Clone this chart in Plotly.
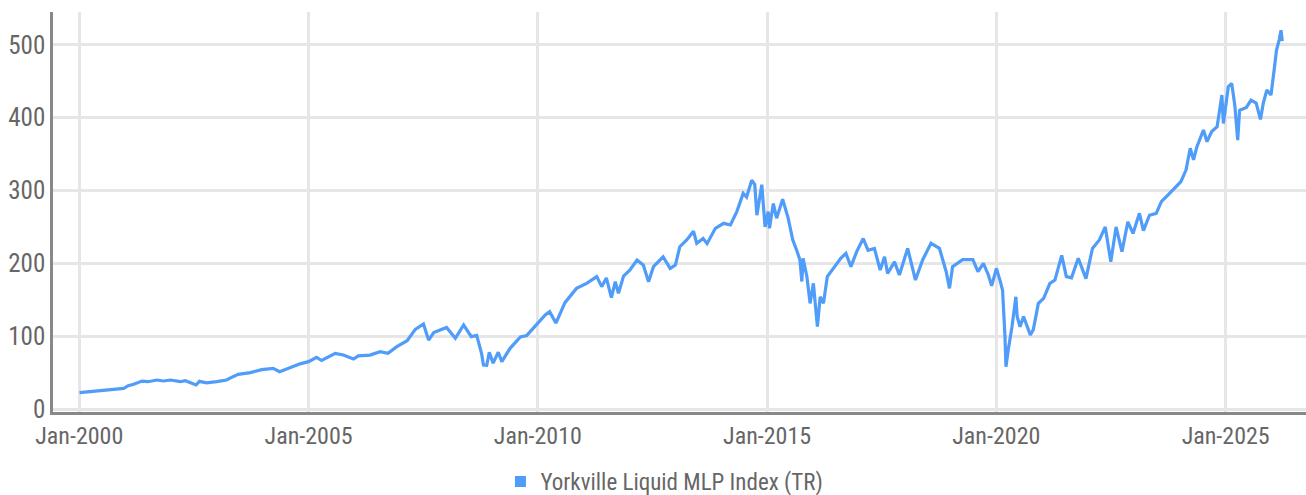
import plotly.graph_objects as go

dates = [
    "2000-01-03", "2000-03-15", "2000-07-10", "2000-10-01", "2000-12-20",
    "2001-01-25", "2001-03-10", "2001-05-15", "2001-07-01", "2001-09-10", "2001-11-01", "2001-12-28",
    "2002-03-15", "2002-04-25", "2002-06-01", "2002-07-20", "2002-08-15", "2002-10-10", "2002-12-31",
    "2003-03-20", "2003-05-10", "2003-06-20", "2003-09-25", "2003-12-25",
    "2004-03-25", "2004-05-15", "2004-08-05", "2004-10-25",
    "2005-01-01", "2005-03-05", "2005-04-15", "2005-07-01", "2005-08-01", "2005-10-05", "2005-12-25",
    "2006-02-01", "2006-05-05", "2006-07-25", "2006-09-25", "2006-12-05",
    "2007-02-25", "2007-05-01", "2007-07-05", "2007-08-15", "2007-09-25",
    "2008-01-05", "2008-03-15", "2008-05-20", "2008-07-20", "2008-09-01", "2008-10-10", "2008-10-25",
    "2008-11-20", "2008-12-10",
    "2009-01-10", "2009-02-20", "2009-03-20", "2009-05-25", "2009-08-15", "2009-10-05", "2009-11-25",
    "2009-12-28",
    "2010-01-20", "2010-03-01", "2010-04-05", "2010-05-25", "2010-08-05", "2010-11-05",
    "2011-01-25", "2011-04-15", "2011-05-25", "2011-07-01", "2011-08-10", "2011-09-10", "2011-10-05",
    "2011-11-15",
    "2012-01-05", "2012-03-01", "2012-04-20", "2012-06-01", "2012-07-10", "2012-09-25", "2012-11-20",
    "2013-01-01", "2013-02-05", "2013-04-01", "2013-05-25", "2013-06-20", "2013-08-10", "2013-09-10",
    "2013-11-15",
    "2014-01-20", "2014-03-15", "2014-05-05", "2014-06-25", "2014-07-22", "2014-09-01", "2014-09-25",
    "2014-10-12", "2014-11-20", "2014-12-16",
    "2015-01-10", "2015-01-20", "2015-02-20", "2015-03-18", "2015-05-05", "2015-06-18", "2015-07-25",
    "2015-08-25", "2015-09-20", "2015-10-05", "2015-10-15", "2015-11-14", "2015-12-10",
    "2016-01-05", "2016-02-06", "2016-02-28", "2016-03-25", "2016-04-25", "2016-06-15", "2016-08-10",
    "2016-09-20", "2016-10-30", "2016-12-15",
    "2017-02-05", "2017-03-15", "2017-05-05", "2017-06-20", "2017-07-25", "2017-08-18", "2017-10-12",
    "2017-11-20",
    "2018-01-25", "2018-03-28", "2018-05-25", "2018-07-30", "2018-10-05", "2018-11-28", "2018-12-24",
    "2019-01-18", "2019-04-08", "2019-06-28", "2019-08-08", "2019-09-20", "2019-10-30", "2019-11-25",
    "2020-01-02", "2020-01-30", "2020-02-20", "2020-03-10", "2020-03-18", "2020-04-05", "2020-05-05",
    "2020-06-05", "2020-06-15", "2020-07-08", "2020-08-05", "2020-09-28", "2020-10-22", "2020-12-01",
    "2021-01-12", "2021-03-03", "2021-04-12", "2021-06-05", "2021-07-12", "2021-08-22", "2021-10-15",
    "2021-12-15",
    "2022-02-05", "2022-04-01", "2022-05-18", "2022-07-01", "2022-08-12", "2022-09-28", "2022-11-14",
    "2022-12-25",
    "2023-02-14", "2023-03-18", "2023-05-05", "2023-06-28", "2023-08-08", "2023-10-12", "2023-12-01",
    "2024-01-10", "2024-02-20", "2024-03-25", "2024-04-20", "2024-05-15", "2024-07-08", "2024-08-05",
    "2024-09-12", "2024-10-25", "2024-12-02", "2024-12-14",
    "2025-01-22", "2025-02-18", "2025-03-15", "2025-04-07", "2025-04-22", "2025-06-15", "2025-07-22",
    "2025-09-01", "2025-10-05", "2025-10-28", "2025-11-25", "2025-12-28",
    "2026-01-22", "2026-02-10", "2026-03-03", "2026-03-18", "2026-03-28",
]

index_values = [
    22.4, 23.5, 26, 27.5, 28.4,
    32, 34, 38.4, 37.5, 39.8, 38.5, 39.8,
    37.5, 38.8, 36, 33, 38, 36, 37.5,
    39.8, 44.4, 47.6, 49.9, 54,
    55.8, 51.2, 56.8, 62,
    65, 70.9, 66.6, 74, 76.4, 74.1, 68.6,
    73, 74, 78.7, 76.4, 85.6,
    93.8, 109.3, 116.7, 94.7, 105,
    112, 97, 115.3, 99.3, 101, 76, 60.4,
    60, 78,
    63, 78, 65, 83.3, 99, 101, 110.7,
    117.6,
    122, 129, 133.6, 118, 146, 165.6,
    172.5, 181.7, 168, 180, 153, 174.8, 158.8,
    182.6,
    190.8, 204.5, 197.7, 174.8, 195.4, 209, 193,
    197.7, 222.8, 232, 244, 227.4, 234, 227,
    248,
    254.9, 252.6, 271, 296, 291, 314, 308,
    266, 308, 250,
    271, 248, 282, 262, 288, 262, 232,
    218, 204.5, 175, 207, 182, 145,
    172.5, 113, 154, 145, 181.7, 193, 206.8,
    213.7, 195.4, 216,
    234, 218, 220.5, 190.8, 209, 186, 202,
    184,
    220.5, 177, 205, 227.4, 220.5, 188.5, 165.6,
    195.4, 205, 205, 188.5, 200, 184, 169,
    193, 177, 163, 100, 58, 81, 113,
    154, 127, 113, 127, 101.6, 109, 145,
    152, 172.5, 177, 211, 181.7, 180, 207,
    179,
    220.5, 232, 250, 202, 250, 216, 257,
    241,
    268.6, 245, 266, 268.6, 284.6, 296, 305,
    312, 328, 358, 342, 359, 383, 367,
    381, 387.5, 431, 392,
    442.5, 447, 417, 369, 410, 414, 424,
    420, 397.6, 420, 438, 431,
    465, 492.8, 506.5, 520, 505,
]

series_name = "Yorkville Liquid MLP Index (TR)"
y_ticks = [0, 100, 200, 300, 400, 500]

LINE_COLOR = "#4f9cf9"
FONT = "Liberation Sans Narrow, Roboto Condensed, DejaVu Sans Condensed, Roboto, sans-serif"

fig = go.Figure()
fig.add_trace(go.Scatter(
    x=dates, y=index_values, mode="lines",
    line=dict(color=LINE_COLOR, width=3.2),
    showlegend=False, hoverinfo="x+y",
))
fig.add_trace(go.Scatter(
    x=[None], y=[None], mode="markers", name=series_name,
    marker=dict(symbol="square", size=11, color=LINE_COLOR),
    showlegend=True,
))

fig.update_layout(
    width=1306, height=495,
    margin=dict(l=53, r=0, t=12, b=83, autoexpand=False),
    paper_bgcolor="white", plot_bgcolor="white",
    font=dict(family=FONT, size=23, color="#666666"),
    legend=dict(orientation="h", x=0.488, xanchor="center", y=-0.12, yanchor="top",
                font=dict(size=23, color="#666666"), itemwidth=30),
    xaxis=dict(
        type="date",
        range=["1999-06-06", "2026-10-03"],
        tick0="2000-01-01", dtick="M60", tickformat="%b-%Y",
        tickfont=dict(size=24),
        showgrid=True, gridcolor="#e6e6e6", gridwidth=2.5,
        showline=True, linecolor="#888888", linewidth=2.5,
        ticks="", zeroline=False, automargin=False,
    ),
    yaxis=dict(
        range=[-4.1, 545],
        tickvals=y_ticks,
        tickfont=dict(size=25),
        showgrid=True, gridcolor="#e6e6e6", gridwidth=2.5,
        showline=True, linecolor="#888888", linewidth=2.5,
        ticks="", zeroline=False, ticklabelstandoff=0, automargin=False,
    ),
)

fig.write_html(
    "out.html",
    config={"displayModeBar": False},
    post_script="document.body.style.margin='0';document.body.style.overflow='hidden';",
)
